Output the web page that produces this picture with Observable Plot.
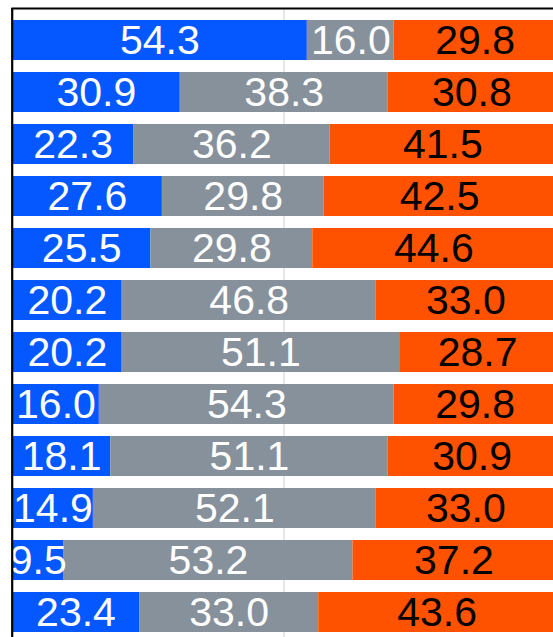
<!DOCTYPE html>
<html>
<head>
<meta charset="utf-8">
<script src="https://cdn.jsdelivr.net/npm/d3@7"></script>
<script src="https://cdn.jsdelivr.net/npm/@observablehq/plot@0.6"></script>
<style>
  html, body { margin: 0; padding: 0; background: #fff; overflow: hidden; }
  svg { font-family: "Liberation Sans", Arial, sans-serif; }
</style>
</head>
<body>
<div id="chart"></div>
<script>
const rows = ["1","2","3","4","5","6","7","8","9","10","11","12"];
const seriesNames = ["left", "middle", "right"];
const leftValues   = [54.3, 30.9, 22.3, 27.6, 25.5, 20.2, 20.2, 16.0, 18.1, 14.9, 9.5, 23.4];
const middleValues = [16.0, 38.3, 36.2, 29.8, 29.8, 46.8, 51.1, 54.3, 51.1, 52.1, 53.2, 33.0];
const rightValues  = [29.8, 30.8, 41.5, 42.5, 44.6, 33.0, 28.7, 29.8, 30.9, 33.0, 37.2, 43.6];
const seriesColors = ["#0558ff", "#87919b", "#ff5200"];

const data = [];
rows.forEach((r, i) => {
  data.push({row: r, series: "left", value: leftValues[i]});
  data.push({row: r, series: "middle", value: middleValues[i]});
  data.push({row: r, series: "right", value: rightValues[i]});
});

const stackOpts = (extra) => Plot.stackX({x: "value", y: "row", z: "series", ...extra});

const chart = Plot.plot({
  width: 553,
  height: 637,
  marginTop: 8,
  marginLeft: 12,
  marginRight: 0,
  marginBottom: 0,
  x: {domain: [0, 100], range: [12, 555], axis: null},
  y: {domain: rows, range: [3.4, 647.8], padding: 0.24, axis: null},
  color: {domain: seriesNames, range: seriesColors},
  style: {fontFamily: "'Liberation Sans', Arial, sans-serif", overflow: "visible"},
  marks: [
    Plot.ruleX([50], {stroke: "#cfcfcf", strokeWidth: 1}),
    Plot.barX(data, stackOpts({fill: "series"})),
    Plot.text(data, stackOpts({
      text: d => d.series === "right" ? "" : d.value.toFixed(1),
      fill: "white", fontSize: 41
    })),
    Plot.text(data, stackOpts({
      text: d => d.series === "right" ? d.value.toFixed(1) : "",
      fill: "black", fontSize: 41
    })),
    Plot.ruleX([0], {stroke: "black", strokeWidth: 2.2, dx: -0.3}),
    Plot.frame({anchor: "top", stroke: "black", strokeWidth: 2.2})
  ]
});
document.getElementById("chart").appendChild(chart);
</script>
</body>
</html>
